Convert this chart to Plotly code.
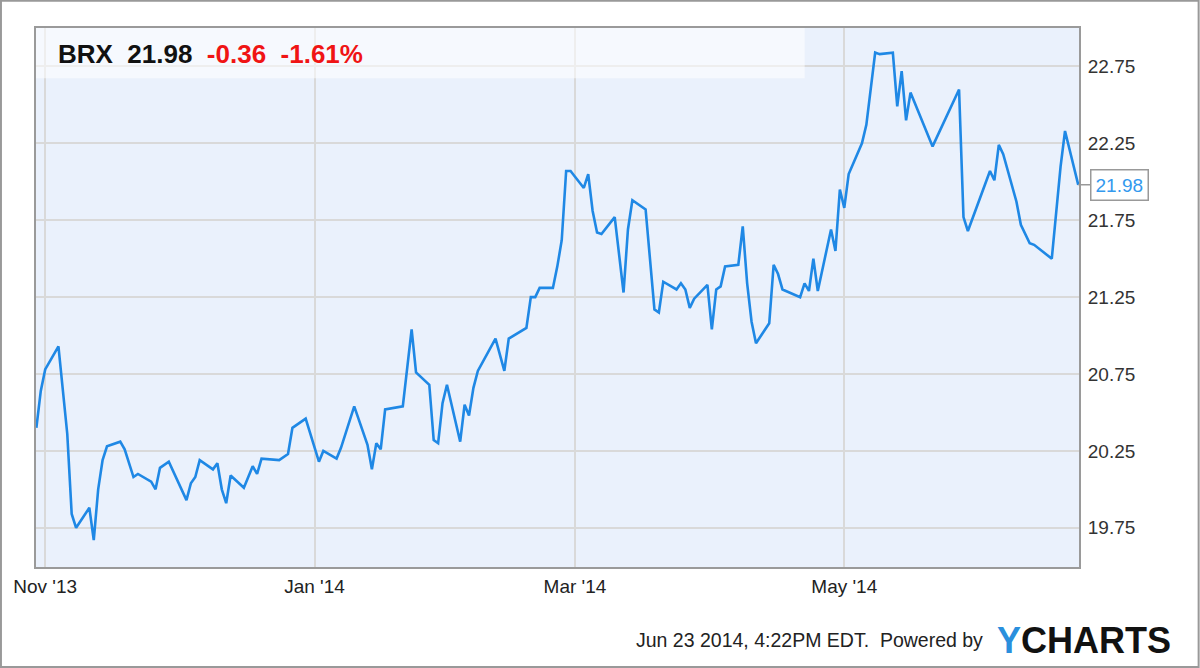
import plotly.graph_objects as go

# BRX daily close, Oct 30 2013 - Jun 23 2014
dates = [
    "2013-10-30", "2013-10-31", "2013-11-01", "2013-11-04", "2013-11-06", "2013-11-07", "2013-11-08",
    "2013-11-11", "2013-11-12", "2013-11-13", "2013-11-14", "2013-11-15", "2013-11-18", "2013-11-19",
    "2013-11-21", "2013-11-22", "2013-11-25", "2013-11-26", "2013-11-27", "2013-11-29",
    "2013-12-03", "2013-12-04", "2013-12-05", "2013-12-06", "2013-12-09", "2013-12-10", "2013-12-11",
    "2013-12-12", "2013-12-13", "2013-12-16", "2013-12-18", "2013-12-19", "2013-12-20", "2013-12-24",
    "2013-12-26", "2013-12-27", "2013-12-30",
    "2014-01-02", "2014-01-03", "2014-01-06", "2014-01-07", "2014-01-10", "2014-01-13", "2014-01-14",
    "2014-01-15", "2014-01-16", "2014-01-17", "2014-01-21", "2014-01-23", "2014-01-24", "2014-01-27",
    "2014-01-28", "2014-01-29", "2014-01-30", "2014-01-31",
    "2014-02-03", "2014-02-04", "2014-02-05", "2014-02-06", "2014-02-07", "2014-02-11", "2014-02-13",
    "2014-02-14", "2014-02-18", "2014-02-19", "2014-02-20", "2014-02-21", "2014-02-24", "2014-02-25",
    "2014-02-26", "2014-02-27", "2014-02-28",
    "2014-03-03", "2014-03-04", "2014-03-05", "2014-03-06", "2014-03-07", "2014-03-10", "2014-03-12",
    "2014-03-13", "2014-03-14", "2014-03-17", "2014-03-19", "2014-03-20", "2014-03-21", "2014-03-24",
    "2014-03-25", "2014-03-26", "2014-03-27", "2014-03-28", "2014-03-31",
    "2014-04-01", "2014-04-02", "2014-04-03", "2014-04-04", "2014-04-07", "2014-04-08", "2014-04-09",
    "2014-04-10", "2014-04-11", "2014-04-14", "2014-04-15", "2014-04-16", "2014-04-17", "2014-04-21",
    "2014-04-22", "2014-04-23", "2014-04-24", "2014-04-25", "2014-04-28", "2014-04-29", "2014-04-30",
    "2014-05-01", "2014-05-02", "2014-05-05", "2014-05-06", "2014-05-08", "2014-05-09", "2014-05-12",
    "2014-05-13", "2014-05-14", "2014-05-15", "2014-05-16", "2014-05-21", "2014-05-27", "2014-05-28",
    "2014-05-29",
    "2014-06-03", "2014-06-04", "2014-06-05", "2014-06-06", "2014-06-09", "2014-06-10", "2014-06-12",
    "2014-06-13", "2014-06-17", "2014-06-19", "2014-06-20", "2014-06-23",
]
prices = [
    20.40, 20.64, 20.78, 20.93, 20.36, 19.84, 19.75, 19.88, 19.67, 20.00, 20.19, 20.28, 20.31, 20.26,
    20.08, 20.10, 20.05, 20.00, 20.14, 20.18,
    19.93, 20.04, 20.08, 20.19, 20.13, 20.17, 20.00, 19.91, 20.09, 20.01, 20.15, 20.10, 20.20, 20.19,
    20.23, 20.40, 20.46,
    20.18, 20.25, 20.20, 20.27, 20.54, 20.29, 20.13, 20.30, 20.26, 20.52, 20.54, 21.04, 20.76, 20.68,
    20.32, 20.30, 20.56, 20.68,
    20.31, 20.55, 20.48, 20.66, 20.77, 20.98, 20.77, 20.98, 21.05, 21.25, 21.25, 21.31, 21.31, 21.45,
    21.62, 22.07, 22.07,
    21.96, 22.05, 21.81, 21.67, 21.66, 21.77, 21.28, 21.69, 21.88, 21.82, 21.17, 21.15, 21.35, 21.30,
    21.34, 21.30, 21.18, 21.24, 21.33,
    21.04, 21.30, 21.32, 21.45, 21.46, 21.71, 21.34, 21.09, 20.95, 21.08, 21.46, 21.40, 21.30, 21.25,
    21.34, 21.29, 21.50, 21.29, 21.69, 21.55, 21.95,
    21.83, 22.05, 22.25, 22.37, 22.84, 22.83, 22.84, 22.49, 22.72, 22.40, 22.58, 22.23, 22.60, 21.77,
    21.68,
    22.07, 22.01, 22.24, 22.18, 21.87, 21.72, 21.60, 21.59, 21.50, 22.10, 22.33, 21.98,
]

x_tickvals = ["2013-11-01", "2014-01-01", "2014-03-01", "2014-05-01"]
x_ticktext = ["Nov '13", "Jan '14", "Mar '14", "May '14"]
y_tickvals = [19.75, 20.25, 20.75, 21.25, 21.75, 22.25, 22.75]

ticker = "BRX"
last_price = "21.98"
change = "-0.36"
change_pct = "-1.61%"
stamp = "Jun 23 2014, 4:22PM EDT.  Powered by"

FONT = "Arial, Liberation Sans, sans-serif"
LINE_BLUE = "#1f88e5"
sp = "\u00a0"

fig = go.Figure()
fig.add_trace(go.Scatter(
    x=dates, y=prices, mode="lines",
    line=dict(color=LINE_BLUE, width=2.6),
    hoverinfo="skip", showlegend=False,
))

fig.update_layout(
    width=1200, height=668,
    margin=dict(l=36, r=121, t=28, b=101),
    paper_bgcolor="white",
    plot_bgcolor="#eaf1fc",
    font=dict(family=FONT, color="#333"),
    xaxis=dict(
        type="date",
        range=["2013-10-29 22:00", "2014-06-23 04:00"],
        tickvals=x_tickvals, ticktext=x_ticktext,
        tickfont=dict(size=19, color="#222"),
        ticklabelstandoff=1,
        showgrid=True, gridcolor="#d9d9d9", gridwidth=1.5,
        showline=True, linecolor="#9a9a9a", linewidth=2, mirror=True,
        zeroline=False,
    ),
    yaxis=dict(
        side="right",
        range=[19.495, 23.0],
        tickvals=y_tickvals, tickformat=".2f",
        tickfont=dict(size=19, color="#333"),
        ticklabelstandoff=3,
        showgrid=True, gridcolor="#d9d9d9", gridwidth=1.5,
        showline=True, linecolor="#9a9a9a", linewidth=2, mirror=True,
        zeroline=False,
    ),
)

# header strip (semi transparent over the plot) and outer frame
fig.add_shape(type="rect", xref="paper", yref="paper",
              x0=0, x1=0.737, y0=0.907, y1=1.0,
              fillcolor="rgba(255,255,255,0.55)", line=dict(width=0), layer="above")
fig.add_shape(type="rect", xref="paper", yref="paper",
              x0=-0.0336, x1=1.1147, y0=-0.1855, y1=1.0505,
              line=dict(color="#999", width=2))

header = (f"<b>{ticker}{sp}{sp}{last_price}{sp}{sp}"
          f"<span style='color:#f01414'>{change}{sp}{sp}{change_pct}</span></b>")
fig.add_annotation(xref="paper", yref="paper", x=0.019, y=0.952,
                   xanchor="left", yanchor="middle", showarrow=False,
                   text=header, font=dict(size=26, color="#111", family=FONT))

# last value tag
fig.add_annotation(x=dates[-1], y=prices[-1], text=f"{prices[-1]:.2f}",
                   showarrow=True, arrowhead=0, arrowwidth=1.5, arrowcolor="#999",
                   ax=41, ay=0, standoff=0,
                   bgcolor="white", bordercolor="#999", borderwidth=1.5, borderpad=4,
                   font=dict(size=19, color="#3399ee", family=FONT))

# footer
fig.add_annotation(xref="paper", yref="paper", x=0.910, y=-0.136,
                   xanchor="right", yanchor="middle", showarrow=False,
                   text=stamp.replace("  ", sp + sp), font=dict(size=19.5, color="#222", family=FONT))
fig.add_annotation(xref="paper", yref="paper", x=0.9195, y=-0.136,
                   xanchor="left", yanchor="middle", showarrow=False,
                   text="<b><span style='color:#2a8fdd'>Y</span>CHARTS</b>",
                   font=dict(size=36, color="#111", family=FONT))

# drop the browser's default 8px body margin so the figure fills the window
fig.write_html("out.html", config={"displayModeBar": False},
               post_script="document.body.style.margin='0';")
